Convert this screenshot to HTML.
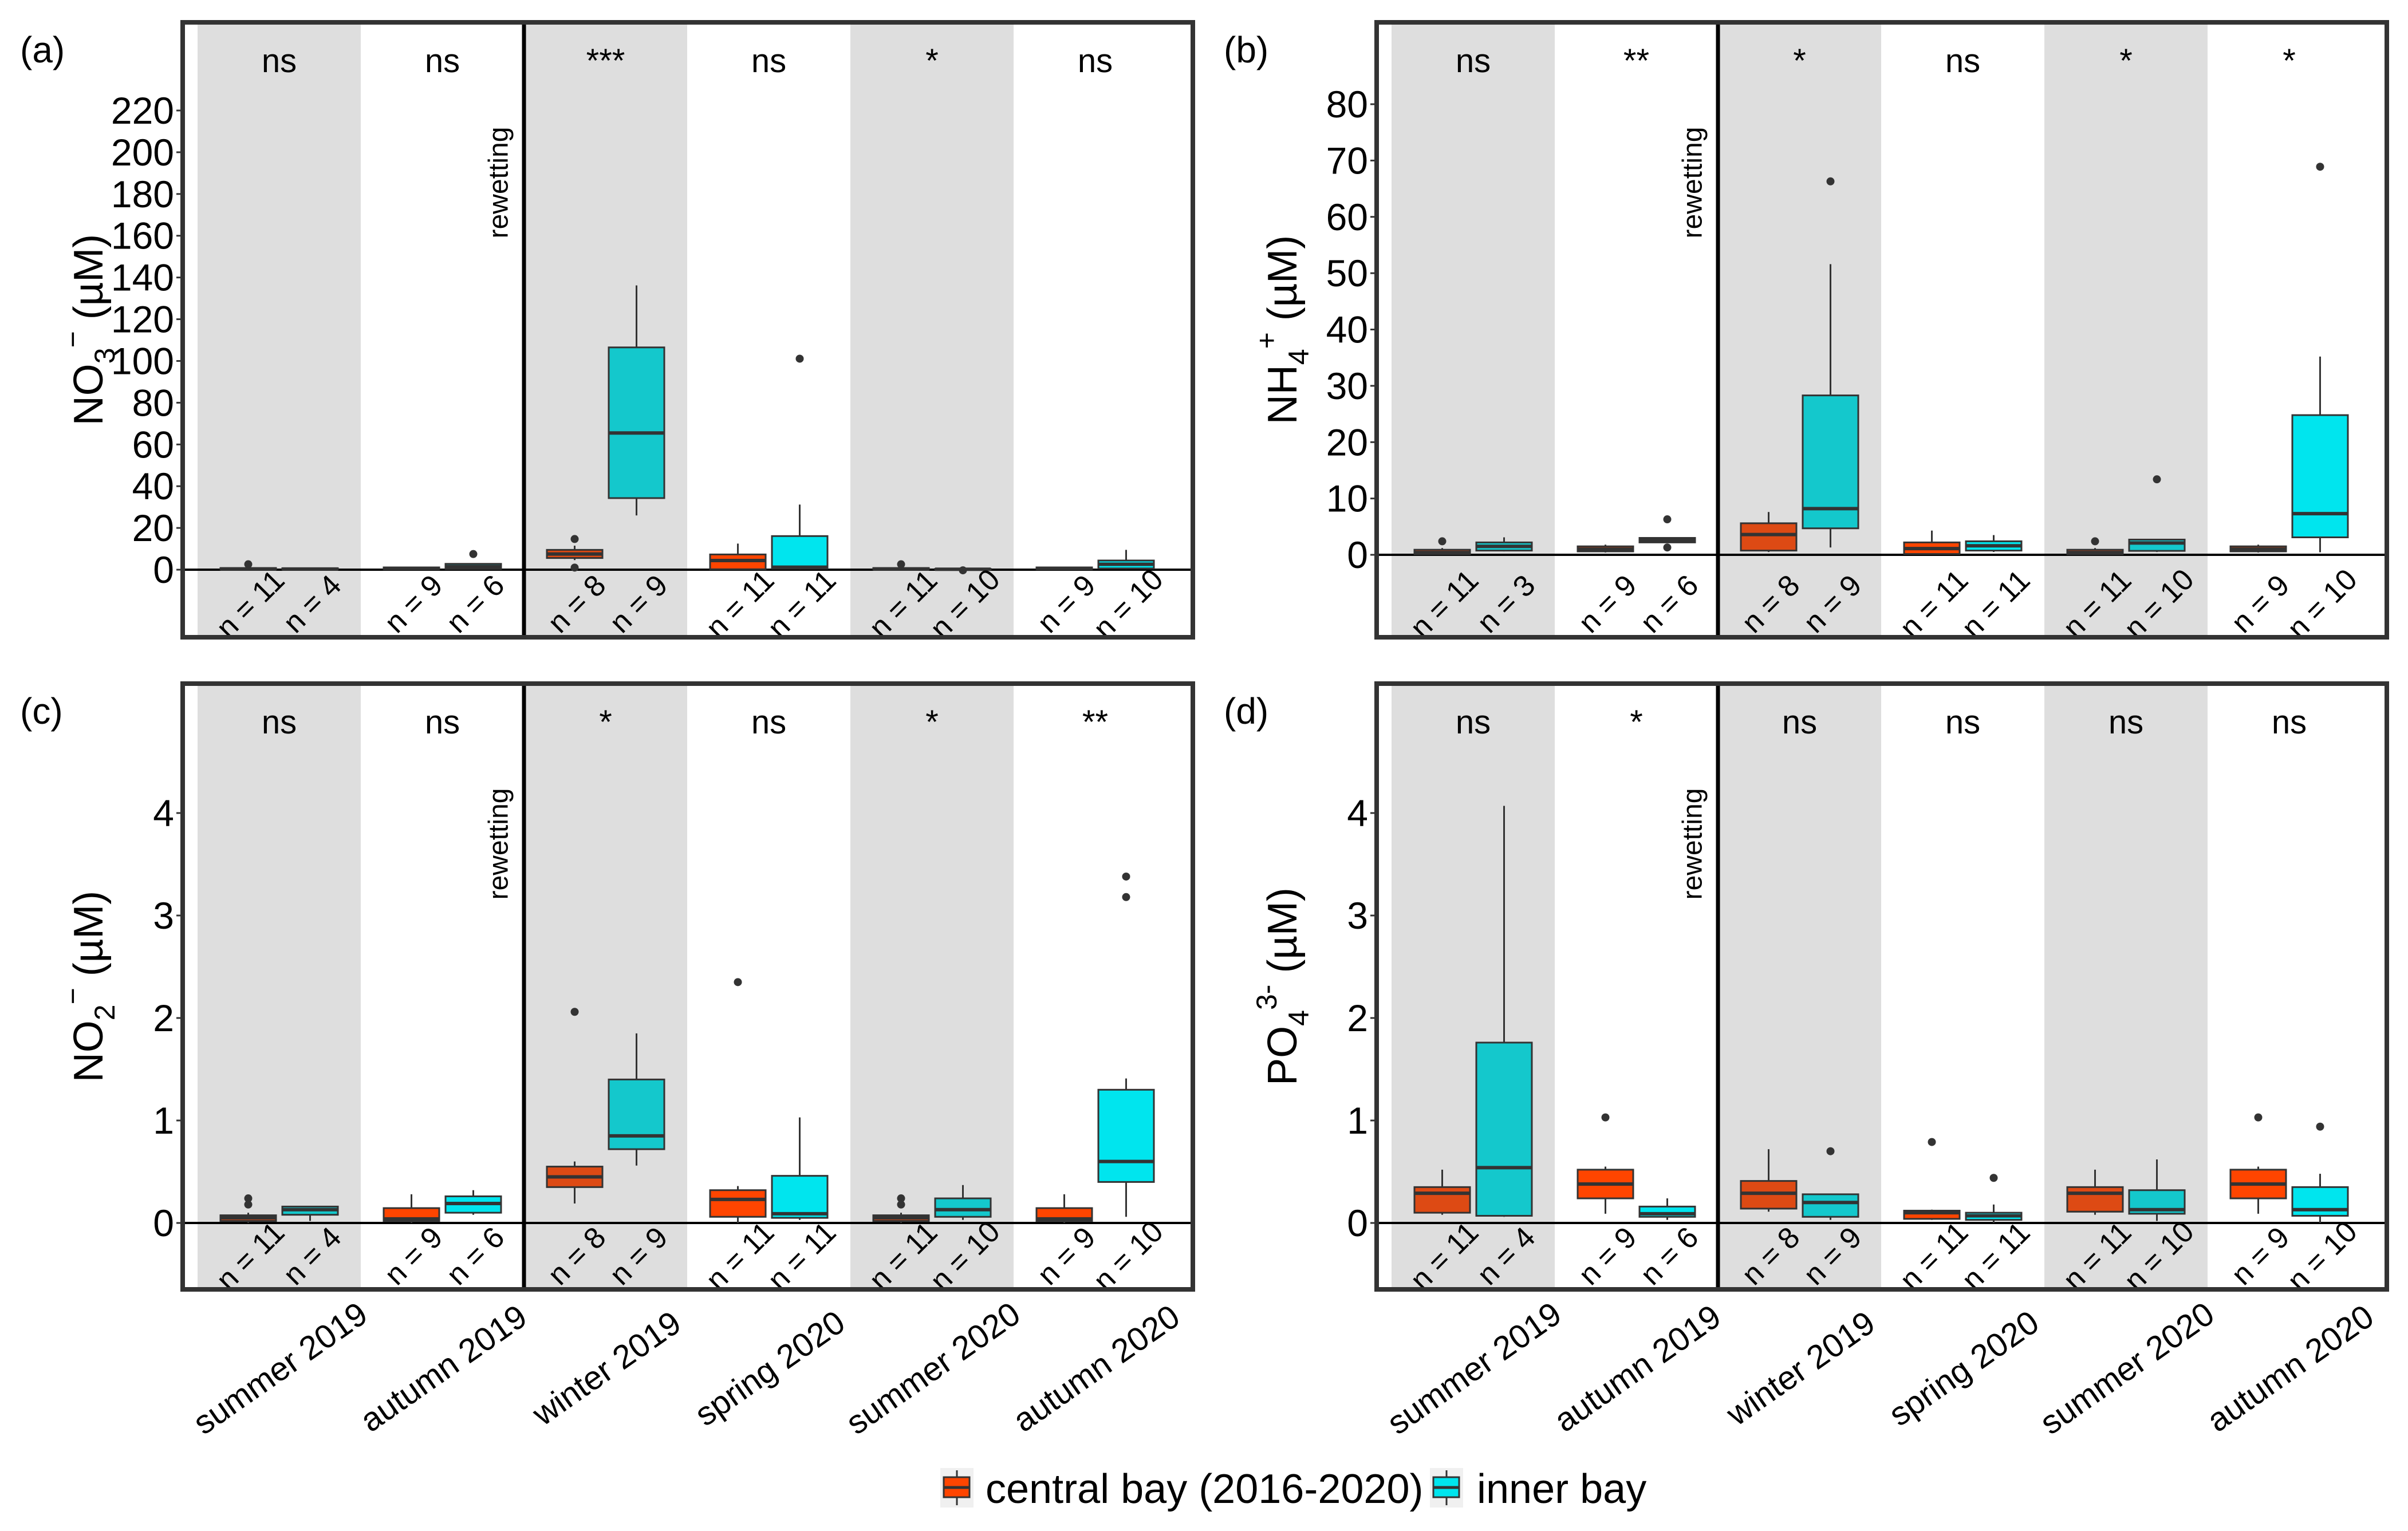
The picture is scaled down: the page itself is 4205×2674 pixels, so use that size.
<!DOCTYPE html>
<html><head><meta charset="utf-8"><style>
html,body{margin:0;padding:0;background:#fff;}
svg{display:block;font-family:"Liberation Sans",Arial,sans-serif;}
</style></head><body>
<svg id="fig" xmlns="http://www.w3.org/2000/svg" width="4205" height="2674" viewBox="0 0 4205 2674">
<rect width="4205" height="2674" fill="#fff"/>
<g>
  <g>
    <rect x="1642" y="2564" width="58" height="69" fill="#f0f0f0"/>
    <line x1="1671" y1="2568" x2="1671" y2="2629" stroke="#333" stroke-width="3"/>
    <rect x="1648" y="2580" width="45" height="35" fill="#ff4500" stroke="#333" stroke-width="3"/>
    <line x1="1648" y1="2598" x2="1693" y2="2598" stroke="#333" stroke-width="5"/>
    <text x="1721" y="2625" font-size="72">central bay (2016-2020)</text>
  </g>
  <g>
    <rect x="2497" y="2564" width="58" height="69" fill="#f0f0f0"/>
    <line x1="2526" y1="2568" x2="2526" y2="2629" stroke="#333" stroke-width="3"/>
    <rect x="2503" y="2580" width="45" height="35" fill="#00e5ee" stroke="#333" stroke-width="3"/>
    <line x1="2503" y1="2598" x2="2548" y2="2598" stroke="#333" stroke-width="5"/>
    <text x="2579" y="2625" font-size="72">inner bay</text>
  </g>
</g>
</svg>
<script>
// ---- shared data ----
const seasons = ["summer 2019","autumn 2019","winter 2019","spring 2020","summer 2020","autumn 2020"];

// Panel (a) NO3-  : [lo, q1, median, q3, hi]
const aTicks = [0,20,40,60,80,100,120,140,160,180,200,220];
const aSig = ["ns","ns","***","ns","*","ns"];
const aNCentral = [11,9,8,11,11,9];
const aNInner = [4,6,9,11,10,10];
const aCentral = [[0,0.1,0.3,0.8,1.2],[0,0.2,0.6,1.1,1.4],[4.6,5.6,7.5,9.5,11.5],[0,0.2,4.4,7.3,12.5],[0,0.1,0.3,0.8,1.2],[0,0.2,0.6,1.1,1.3]];
const aCentralOut = [[2.6],[],[14.7,1],[],[2.6],[]];
const aInner = [[0,0.1,0.3,0.7,0.9],[0.1,0.3,1.5,2.8,3],[26,34.3,65.5,106.5,136.2],[0.1,0.5,1.2,16.1,31.2],[0,0.1,0.2,0.4,0.5],[0.2,0.6,2.6,4.4,9.5]];
const aInnerOut = [[],[7.5],[],[101.1],[-0.3],[]];

// Panel (b) NH4+
const bTicks = [0,10,20,30,40,50,60,70,80];
const bSig = ["ns","**","*","ns","*","*"];
const bNCentral = [11,9,8,11,11,9];
const bNInner = [3,6,9,11,10,10];
const bCentral = [[0,0.1,0.4,0.9,1.2],[0.4,0.6,1.0,1.5,1.8],[0.5,0.75,3.6,5.6,7.6],[0,0.15,1.1,2.2,4.3],[0,0.1,0.4,0.9,1.2],[0.4,0.6,1.0,1.5,1.8]];
const bCentralOut = [[2.4],[],[],[],[2.4],[]];
const bInner = [[0.6,0.75,1.5,2.2,3.1],[2.2,2.2,2.6,3.0,3.0],[1.3,4.7,8.2,28.3,51.6],[0.5,0.75,1.6,2.4,3.5],[0.5,0.7,2.1,2.7,2.8],[0.45,3.1,7.3,24.8,35.2]];
const bInnerOut = [[],[6.3,1.3],[66.3],[],[13.4],[68.9]];

// Panel (c) NO2-
const cTicks = [0,1,2,3,4];
const cSig = ["ns","ns","*","ns","*","**"];
const cNCentral = [11,9,8,11,11,9];
const cNInner = [4,6,9,11,10,10];
const cCentral = [[0,0.02,0.05,0.075,0.1],[0,0.02,0.04,0.145,0.28],[0.19,0.35,0.45,0.55,0.6],[0,0.06,0.23,0.32,0.36],[0,0.02,0.05,0.075,0.1],[0,0.02,0.04,0.145,0.28]];
const cCentralOut = [[0.24,0.18],[],[2.06],[2.35],[0.24,0.18],[]];
const cInner = [[0.02,0.08,0.13,0.16,0.16],[0.08,0.1,0.19,0.26,0.32],[0.56,0.72,0.85,1.4,1.85],[0.03,0.05,0.09,0.46,1.03],[0.03,0.06,0.13,0.24,0.37],[0.06,0.4,0.6,1.3,1.41]];
const cInnerOut = [[],[],[],[],[],[3.38,3.18]];

// Panel (d) PO4 3-
const dTicks = [0,1,2,3,4];
const dSig = ["ns","*","ns","ns","ns","ns"];
const dNCentral = [11,9,8,11,11,9];
const dNInner = [4,6,9,11,10,10];
const dCentral = [[0.08,0.1,0.29,0.35,0.52],[0.09,0.24,0.38,0.52,0.55],[0.11,0.14,0.29,0.41,0.72],[0.03,0.04,0.1,0.12,0.13],[0.08,0.11,0.29,0.35,0.52],[0.09,0.24,0.38,0.52,0.55]];
const dCentralOut = [[],[1.03],[],[0.79],[],[1.03]];
const dInner = [[0.06,0.07,0.54,1.76,4.07],[0.03,0.06,0.09,0.16,0.24],[0.03,0.06,0.2,0.28,0.28],[0,0.03,0.07,0.1,0.18],[0.02,0.09,0.13,0.32,0.62],[0,0.07,0.13,0.35,0.48]];
const dInnerOut = [[],[],[0.7],[0.44],[],[0.94]];

const NS = "http://www.w3.org/2000/svg";
const svg = document.getElementById('fig');
function mk(tag, attrs, parent){
  const e = document.createElementNS(NS, tag);
  for (const k in attrs) e.setAttribute(k, attrs[k]);
  parent.appendChild(e);
  return e;
}

function drawPanel(p){
  const g = mk('g', {}, svg);
  
  
  const L = p.left, R = p.left + 1764, T = p.top, B = p.bottom;
  const bandW = 285, band0 = L + 26;
  const y = v => p.zero - (v - p.ticks[0]) * (p.zero - p.topTickY) / (p.ticks[p.ticks.length-1] - p.ticks[0]);
  const bx = i => band0 + bandW * i + bandW / 2;
  for (let i = 0; i < 6; i++) {
    if (i % 2 === 0) {
      const r = mk('rect', {x: band0 + bandW*i, y: T+4, width: bandW, height: B-T-8, fill: '#dedede'}, g);
      
      
    }
  }
  const dv = mk('line', {x1: band0 + 2*bandW, x2: band0 + 2*bandW, y1: T, y2: B, stroke: '#000', 'stroke-width': 7}, g);
  
  
  const zl = mk('line', {x1: L, x2: R, y1: y(0), y2: y(0), stroke: '#000', 'stroke-width': 4}, g);
  
  
  p.ticks.forEach(t => {
    const tk = mk('line', {x1: L-11, x2: L, y1: y(t), y2: y(t), stroke: '#333', 'stroke-width': 3}, g);
    
    
    const tl = mk('text', {x: L-15, y: y(t), 'font-size': 66, 'text-anchor': 'end', 'dominant-baseline': 'central'}, g);
    tl.textContent = t;
    
    
  });
  const groups = [
    {stats: p.central, outs: p.centralOut, ns: p.nCentral, off: -54, fills: ['#dd4a14', '#ff4500'], nm: 'central'},
    {stats: p.inner, outs: p.innerOut, ns: p.nInner, off: 54, fills: ['#14c8cc', '#00e5ee'], nm: 'inner'}
  ];
  for (let i = 0; i < 6; i++) {
    groups.forEach(gr => {
      const s = gr.stats[i];
      const cx = bx(i) + gr.off;
      const bg = mk('g', {}, g);
      
      
      mk('line', {x1: cx, x2: cx, y1: y(s[0]), y2: y(s[1]), stroke: '#333', 'stroke-width': 3}, bg);
      mk('line', {x1: cx, x2: cx, y1: y(s[3]), y2: y(s[4]), stroke: '#333', 'stroke-width': 3}, bg);
      mk('rect', {x: cx-48.5, y: y(s[3]), width: 97, height: Math.max(0.5, y(s[1]) - y(s[3])), fill: gr.fills[i % 2], stroke: '#333', 'stroke-width': 3}, bg);
      mk('line', {x1: cx-48.5, x2: cx+48.5, y1: y(s[2]), y2: y(s[2]), stroke: '#333', 'stroke-width': 6}, bg);
      gr.outs[i].forEach(o => {
        const c = mk('circle', {cx: cx, cy: y(o), r: 7, fill: '#333'}, bg);
        
        
      });
      const nt = mk('text', {x: 0, y: 0, 'font-size': 52, 'text-anchor': 'middle', 'dominant-baseline': 'central', transform: `translate(${cx+4},${B-58}) rotate(-45)`}, g);
      nt.textContent = 'n = ' + gr.ns[i];
      
      
    });
    const sg = mk('text', {x: bx(i), y: T + 87, 'font-size': 58, 'text-anchor': 'middle'}, g);
    sg.textContent = p.sig[i];
    
    
    if (p.xlabels) {
      const xl = mk('text', {x: 0, y: 0, 'font-size': 58, 'text-anchor': 'middle', 'dominant-baseline': 'central', transform: `translate(${bx(i)+2},${B+138}) rotate(-35)`}, g);
      xl.textContent = seasons[i];
      
      
    }
  }
  const rw = mk('text', {x: 0, y: 0, 'font-size': 48, 'text-anchor': 'middle', 'dominant-baseline': 'central', transform: `translate(${band0 + 2*bandW - 44},${T + 280}) rotate(-90)`}, g);
  rw.textContent = 'rewetting';
  
  
  const fr = mk('rect', {x: L, y: T, width: R-L, height: B-T, fill: 'none', stroke: '#333', 'stroke-width': 8}, g);
  
  
  const yt = mk('text', {x: 0, y: 0, 'font-size': 72, 'text-anchor': 'middle', 'dominant-baseline': 'central', transform: `translate(${L-164},${(T+B)/2}) rotate(-90)`}, g);
  yt.innerHTML = p.title;
  
  
  const pl = mk('text', {x: p.labelX, y: T + 70, 'font-size': 64}, g);
  pl.textContent = '(' + p.id + ')';
  
  
}

const sub = s => `<tspan baseline-shift="sub" font-size="50">${s}</tspan>`;
const sup = s => `<tspan baseline-shift="super" font-size="50">${s}</tspan>`;

drawPanel({id:'a', left:319, labelX:35, top:39, bottom:1113, zero:995, topTickY:193, ticks:aTicks, sig:aSig,
  central:aCentral, centralOut:aCentralOut, inner:aInner, innerOut:aInnerOut, nCentral:aNCentral, nInner:aNInner,
  title:'NO' + sub('3') + sup('\u2212') + ' (\u00b5M)', xlabels:false});
drawPanel({id:'b', left:2404, labelX:2137, top:39, bottom:1113, zero:969, topTickY:182, ticks:bTicks, sig:bSig,
  central:bCentral, centralOut:bCentralOut, inner:bInner, innerOut:bInnerOut, nCentral:bNCentral, nInner:bNInner,
  title:'NH' + sub('4') + sup('+') + ' (\u00b5M)', xlabels:false});
drawPanel({id:'c', left:319, labelX:35, top:1194, bottom:2252, zero:2136, topTickY:1420, ticks:cTicks, sig:cSig,
  central:cCentral, centralOut:cCentralOut, inner:cInner, innerOut:cInnerOut, nCentral:cNCentral, nInner:cNInner,
  title:'NO' + sub('2') + sup('\u2212') + ' (\u00b5M)', xlabels:true});
drawPanel({id:'d', left:2404, labelX:2137, top:1194, bottom:2252, zero:2136, topTickY:1420, ticks:dTicks, sig:dSig,
  central:dCentral, centralOut:dCentralOut, inner:dInner, innerOut:dInnerOut, nCentral:dNCentral, nInner:dNInner,
  title:'PO' + sub('4') + sup('3-') + ' (\u00b5M)', xlabels:true});
</script>
</body></html>
